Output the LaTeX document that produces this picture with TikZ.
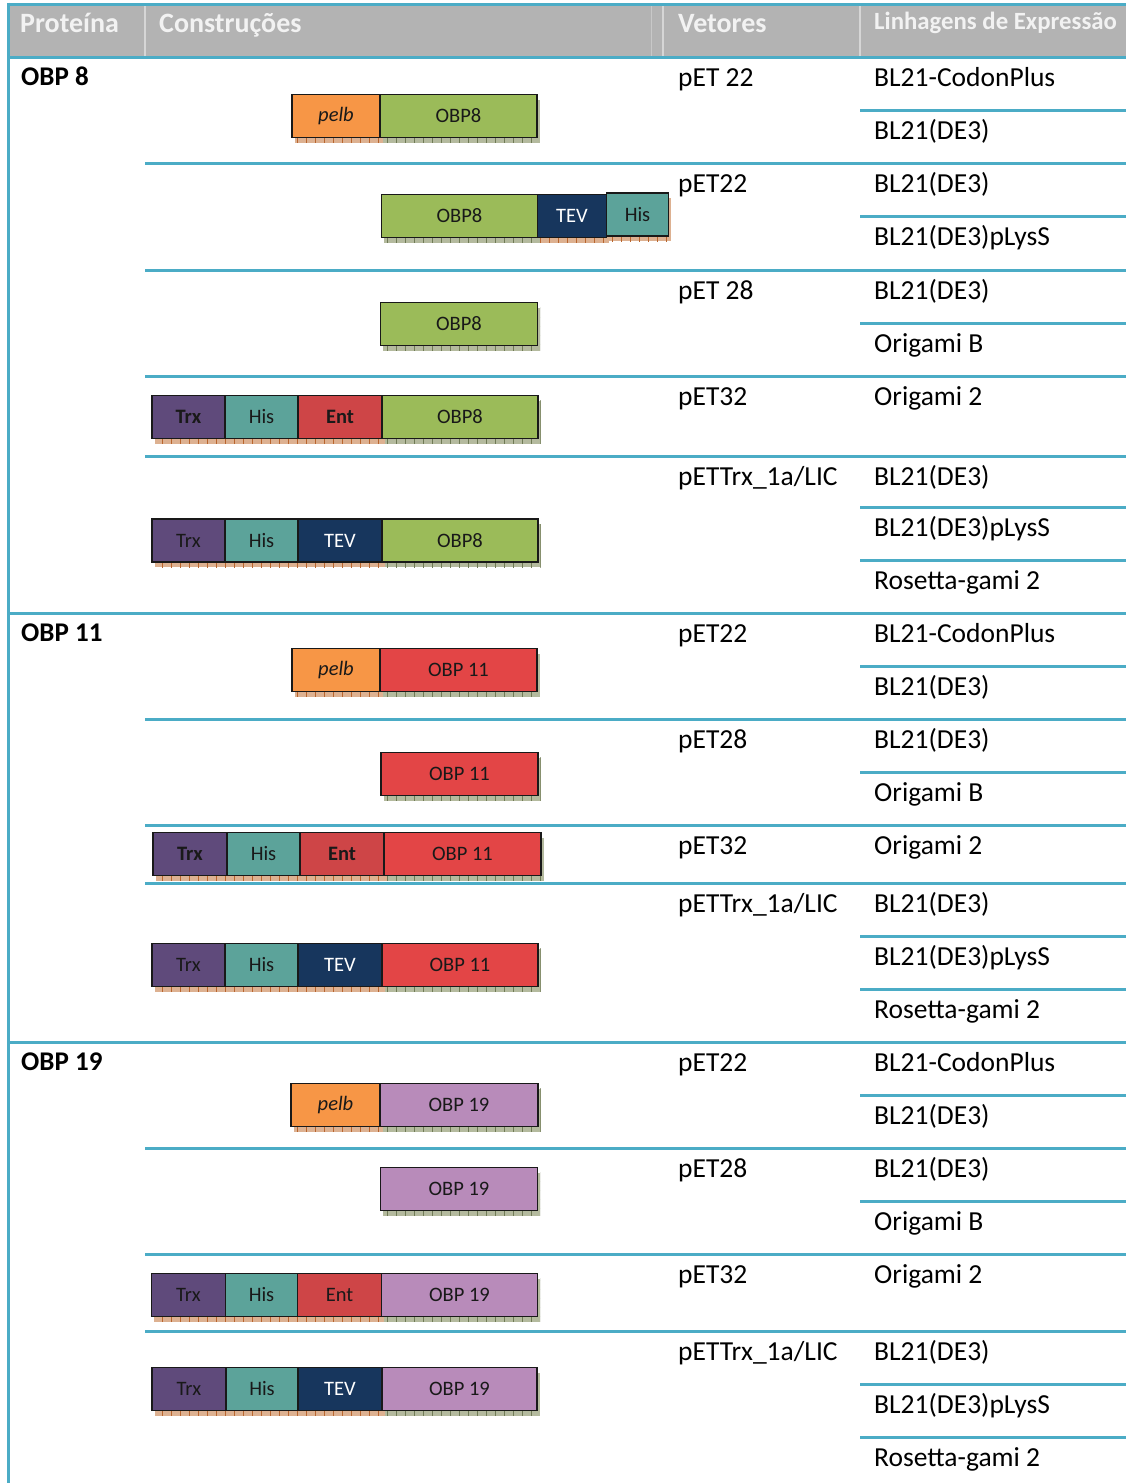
\documentclass[tikz,border=0pt]{standalone}
\usepackage{fontspec}
\setmainfont{Carlito}
\usepackage{xcolor}
\usepackage{tikz}
\usetikzlibrary{positioning,shadows,patterns.meta}

\definecolor{rulecyan}{HTML}{4BACC6}
\definecolor{headgray}{HTML}{B3B3B3}
\definecolor{headsepcol}{HTML}{D6D6D6}
\definecolor{pelbcol}{HTML}{F79646}
\definecolor{obp8col}{HTML}{9BBB59}
\definecolor{obp11col}{HTML}{E34546}
\definecolor{obp19col}{HTML}{B88BBA}
\definecolor{tevcol}{HTML}{17365D}
\definecolor{hiscol}{HTML}{5CA39A}
\definecolor{trxcol}{HTML}{5F4A7B}
\definecolor{entcol}{HTML}{CE4547}
\definecolor{tagshade}{HTML}{DDB191}
\definecolor{tagtick}{HTML}{B8652E}
\definecolor{obpshade}{HTML}{B4BA9E}
\definecolor{obptick}{HTML}{6F7A55}

\tikzstyle{seg} = [rectangle, draw=black!90, line width=1.4pt, outer sep=0pt, minimum height=43pt, inner sep=0pt, text=black!90, font=\fontsize{20.5}{24}\selectfont]
\tikzstyle{tagbox} = [seg, drop shadow={shadow xshift=2.5pt, shadow yshift=-5pt, opacity=1, fill=tagshade, postaction={pattern={Lines[angle=90, distance=9pt, line width=0.7pt]}, pattern color=tagtick}}]
\tikzstyle{obpbox} = [seg, minimum width=157pt, drop shadow={shadow xshift=2.5pt, shadow yshift=-5pt, opacity=1, fill=obpshade, postaction={pattern={Lines[angle=90, distance=9pt, line width=0.7pt]}, pattern color=obptick}}]
\tikzstyle{pelbbox} = [tagbox, fill=pelbcol, minimum width=88pt, font=\fontsize{20.5}{24}\selectfont\itshape]
\tikzstyle{trxbox} = [tagbox, fill=trxcol, minimum width=73pt]
\tikzstyle{hisbox} = [tagbox, fill=hiscol, minimum width=73pt]
\tikzstyle{entbox} = [tagbox, fill=entcol, minimum width=84pt]
\tikzstyle{tevbox} = [tagbox, fill=tevcol, minimum width=84pt, text=white]
\tikzstyle{cellrule} = [rulecyan, line width=3pt]
\tikzstyle{headtext} = [text=white!95!black, font=\fontsize{28}{31}\selectfont\bfseries, anchor=base west, inner sep=0pt]
\tikzstyle{celltext} = [font=\fontsize{27.5}{32}\selectfont, anchor=base west, inner sep=0pt]

\begin{document}
\begin{tikzpicture}[x=1pt, y=-1pt]

    \useasboundingbox (0,0) rectangle (1126,1483);

    % Header
    \fill[headgray] (8,4) rectangle (1126,57);
    \foreach \x in {145,663,860}
        \draw[headsepcol, line width=1.2pt] (\x,5) -- (\x,56);
    \draw[headsepcol!60!headgray, line width=1pt] (651,5) -- (651,56);
    \node (hprot) [headtext] at (20,32) {Proteína};
    \node (hcons) [headtext] at (159,32) {Construções};
    \node (hvet) [headtext] at (678,32) {Vetores};
    \node (hlin) [headtext, font=\fontsize{24.8}{28}\selectfont\bfseries] at (874,29) {Linhagens de Expressão};

    % Rules
    \draw[cellrule] (8,4) -- (1126,4);
    \draw[cellrule] (8,2.5) -- (8,1483);
    \foreach \y in {57,613,1042}
        \draw[cellrule] (8,\y) -- (1126,\y);
    \foreach \y in {163,270,376,456,719,825,883,1148,1254,1331}
        \draw[cellrule] (145,\y) -- (1126,\y);
    \foreach \y in {110,216,323,507,560,666,772,936,989,1095,1201,1384,1437}
        \draw[cellrule] (860,\y) -- (1126,\y);

    % Proteins
    \node (p8) [celltext, font=\fontsize{27}{32}\selectfont\bfseries] at (21,85) {OBP 8};
    \node (p11) [celltext, font=\fontsize{27}{32}\selectfont\bfseries] at (21,641) {OBP 11};
    \node (p19) [celltext, font=\fontsize{27}{32}\selectfont\bfseries] at (21,1070) {OBP 19};

    % Vectors
    \foreach \y/\t in {57/pET 22, 163/pET22, 270/pET 28, 376/pET32, 456/{pETTrx\_1a/LIC},
                       613/pET22, 719/pET28, 825/pET32, 883/{pETTrx\_1a/LIC},
                       1042/pET22, 1148/pET28, 1254/pET32, 1331/{pETTrx\_1a/LIC}}
        \node (vec\y) [celltext] at (678,\y+29.5) {\t};

    % Strains
    \foreach \y/\t in {57/BL21-CodonPlus, 110/BL21(DE3), 163/BL21(DE3), 216/BL21(DE3)pLysS,
                       270/BL21(DE3), 323/Origami B, 376/Origami 2, 456/BL21(DE3),
                       507/BL21(DE3)pLysS, 560/Rosetta-gami 2,
                       613/BL21-CodonPlus, 666/BL21(DE3), 719/BL21(DE3), 772/Origami B,
                       825/Origami 2, 883/BL21(DE3), 936/BL21(DE3)pLysS, 989/Rosetta-gami 2,
                       1042/BL21-CodonPlus, 1095/BL21(DE3), 1148/BL21(DE3), 1201/Origami B,
                       1254/Origami 2, 1331/BL21(DE3), 1384/BL21(DE3)pLysS, 1437/Rosetta-gami 2}
        \node (lin\y) [celltext] at (874,\y+29.5) {\t};

    % OBP 8 constructs
    \node (a1pelb) [pelbbox, anchor=west] at (292,116) {pelb};
    \node (a1obp) [obpbox, fill=obp8col, right=0pt of a1pelb] {OBP8};

    \node (a2obp) [obpbox, fill=obp8col, minimum width=156pt, anchor=west] at (381.5,216) {OBP8};
    \node (a2tev) [tevbox, minimum width=69pt, right=0pt of a2obp] {TEV};
    \node (a2his) [hisbox, minimum width=62pt, right=0pt of a2tev, yshift=1.5pt] {His};

    \node (a3obp) [obpbox, fill=obp8col, anchor=west] at (380.5,324) {OBP8};

    \node (a4trx) [trxbox, anchor=west, font=\fontsize{20.5}{24}\selectfont\bfseries] at (152,417) {Trx};
    \node (a4his) [hisbox, right=0pt of a4trx] {His};
    \node (a4ent) [entbox, right=0pt of a4his, font=\fontsize{20.5}{24}\selectfont\bfseries] {Ent};
    \node (a4obp) [obpbox, fill=obp8col, minimum width=156pt, right=0pt of a4ent] {OBP8};

    \node (a5trx) [trxbox, anchor=west] at (152,540.5) {Trx};
    \node (a5his) [hisbox, right=0pt of a5trx] {His};
    \node (a5tev) [tevbox, right=0pt of a5his] {TEV};
    \node (a5obp) [obpbox, fill=obp8col, minimum width=156pt, right=0pt of a5tev] {OBP8};

    % OBP 11 constructs
    \node (b1pelb) [pelbbox, anchor=west] at (292,670) {pelb};
    \node (b1obp) [obpbox, fill=obp11col, right=0pt of b1pelb] {OBP 11};

    \node (b2obp) [obpbox, fill=obp11col, anchor=west] at (381,774) {OBP 11};

    \node (b3trx) [trxbox, minimum width=74pt, anchor=west, font=\fontsize{20.5}{24}\selectfont\bfseries] at (153,854) {Trx};
    \node (b3his) [hisbox, right=0pt of b3trx] {His};
    \node (b3ent) [entbox, right=0pt of b3his, font=\fontsize{20.5}{24}\selectfont\bfseries] {Ent};
    \node (b3obp) [obpbox, fill=obp11col, right=0pt of b3ent] {OBP 11};

    \node (b4trx) [trxbox, anchor=west] at (152,965) {Trx};
    \node (b4his) [hisbox, right=0pt of b4trx] {His};
    \node (b4tev) [tevbox, right=0pt of b4his] {TEV};
    \node (b4obp) [obpbox, fill=obp11col, minimum width=156pt, right=0pt of b4tev] {OBP 11};

    % OBP 19 constructs
    \node (c1pelb) [pelbbox, minimum width=89pt, anchor=west] at (291,1105) {pelb};
    \node (c1obp) [obpbox, fill=obp19col, minimum width=158pt, right=0pt of c1pelb] {OBP 19};

    \node (c2obp) [obpbox, fill=obp19col, anchor=west] at (380.5,1189) {OBP 19};

    \node (c3trx) [trxbox, minimum width=74pt, anchor=west] at (151.5,1295) {Trx};
    \node (c3his) [hisbox, minimum width=72pt, right=0pt of c3trx] {His};
    \node (c3ent) [entbox, right=0pt of c3his] {Ent};
    \node (c3obp) [obpbox, fill=obp19col, minimum width=156pt, right=0pt of c3ent] {OBP 19};

    \node (c4trx) [trxbox, minimum width=74pt, anchor=west] at (152,1389) {Trx};
    \node (c4his) [hisbox, minimum width=72pt, right=0pt of c4trx] {His};
    \node (c4tev) [tevbox, right=0pt of c4his] {TEV};
    \node (c4obp) [obpbox, fill=obp19col, minimum width=155pt, right=0pt of c4tev] {OBP 19};

\end{tikzpicture}
\end{document}
